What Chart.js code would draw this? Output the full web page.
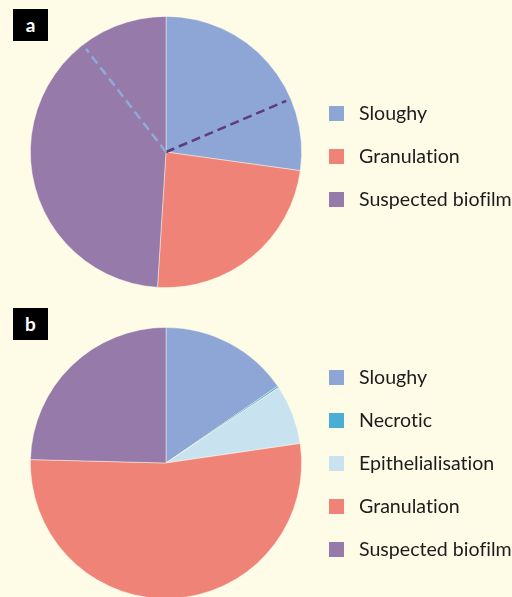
<!DOCTYPE html>
<html>
<head>
<meta charset="utf-8">
<script src="https://cdn.jsdelivr.net/npm/chart.js@4"></script>
<style>
  html, body { margin: 0; padding: 0; width: 512px; height: 597px; overflow: hidden; background: #fefbe6; }
  .panel { position: absolute; left: 0; width: 332px; height: 304px; }
  .tag { position: absolute; left: 13px; width: 35px; height: 32px; background: #000; color: #fff;
         font: bold 19px "Lato", sans-serif; text-align: center; line-height: 31px; }
  .legend { position: absolute; left: 329px; font: 19.6px "Lato", sans-serif; color: #1c1c1c;
            font-variant-ligatures: none; }
  .legend div { position: absolute; white-space: nowrap; height: 20px; line-height: 20px; }
  .legend span { position: absolute; left: 0; top: 3px; width: 15px; height: 15px; }
  .legend b { position: absolute; left: 30px; top: 0px; font-weight: normal; }
</style>
</head>
<body>
<div class="panel" style="top:0"><canvas id="pieA"></canvas></div>
<div class="panel" style="top:311px"><canvas id="pieB"></canvas></div>
<div class="tag" style="top:9px">a</div>
<div class="tag" style="top:308px">b</div>
<div class="legend" id="legendA" style="top:103px"></div>
<div class="legend" id="legendB" style="top:367px"></div>
<script>
// panel a
const labelsA = ["Sloughy", "Granulation", "Suspected biofilm"];
const valuesA = [27.2, 23.8, 49.0];
// share of each slice before its dashed divider (null = no divider)
const dashAtA = [18.6, null, 38.5];
const dashColorsA = ["#5e3a80", null, "#8eaad8"];

// panel b
const labelsB = ["Sloughy", "Necrotic", "Epithelialisation", "Granulation", "Suspected biofilm"];
const valuesB = [15.4, 0.2, 7.1, 52.7, 24.6];

const colors = {
  "Sloughy": "#8da6d5",
  "Necrotic": "#4aadd4",
  "Epithelialisation": "#c9e2f0",
  "Granulation": "#f08377",
  "Suspected biofilm": "#967baa",
};

// dashed radial divider inside a slice
const dashPlugin = {
  id: "dashDivider",
  afterDatasetsDraw(chart, args, opts) {
    if (!opts.at) return;
    const ctx = chart.ctx;
    const meta = chart.getDatasetMeta(0);
    const vals = chart.data.datasets[0].data;
    meta.data.forEach((arc, i) => {
      const at = opts.at[i];
      if (at == null) return;
      const ang = arc.startAngle + (arc.endAngle - arc.startAngle) * at / vals[i];
      const r = arc.outerRadius - 5;
      ctx.save();
      ctx.strokeStyle = opts.colors[i];
      ctx.lineWidth = 2.5;
      ctx.setLineDash([9, 5]);
      ctx.beginPath();
      ctx.moveTo(arc.x, arc.y);
      ctx.lineTo(arc.x + Math.cos(ang) * r, arc.y + Math.sin(ang) * r);
      ctx.stroke();
      ctx.restore();
    });
  },
};

function makePie(id, labels, values, dashAt, dashColors) {
  return new Chart(document.getElementById(id), {
    type: "pie",
    data: {
      labels,
      datasets: [{
        data: values,
        backgroundColor: labels.map(l => colors[l]),
        borderColor: "rgba(255,255,240,0.55)",
        borderWidth: 0.8,
      }],
    },
    options: {
      responsive: true,
      maintainAspectRatio: false,
      animation: false,
      layout: { padding: { top: 16, bottom: 16, left: 30, right: 30 } },
      plugins: {
        legend: { display: false },
        tooltip: { enabled: false },
        dashDivider: { at: dashAt, colors: dashColors },
      },
    },
    plugins: [dashPlugin],
  });
}

function makeLegend(id, labels) {
  const box = document.getElementById(id);
  labels.forEach((l, i) => {
    const row = document.createElement("div");
    row.style.top = (i * 43) + "px";
    row.innerHTML = `<span style="background:${colors[l]}"></span><b>${l}</b>`;
    box.appendChild(row);
  });
}

makePie("pieA", labelsA, valuesA, dashAtA, dashColorsA);
makePie("pieB", labelsB, valuesB, null, null);
makeLegend("legendA", labelsA);
makeLegend("legendB", labelsB);
</script>
</body>
</html>
